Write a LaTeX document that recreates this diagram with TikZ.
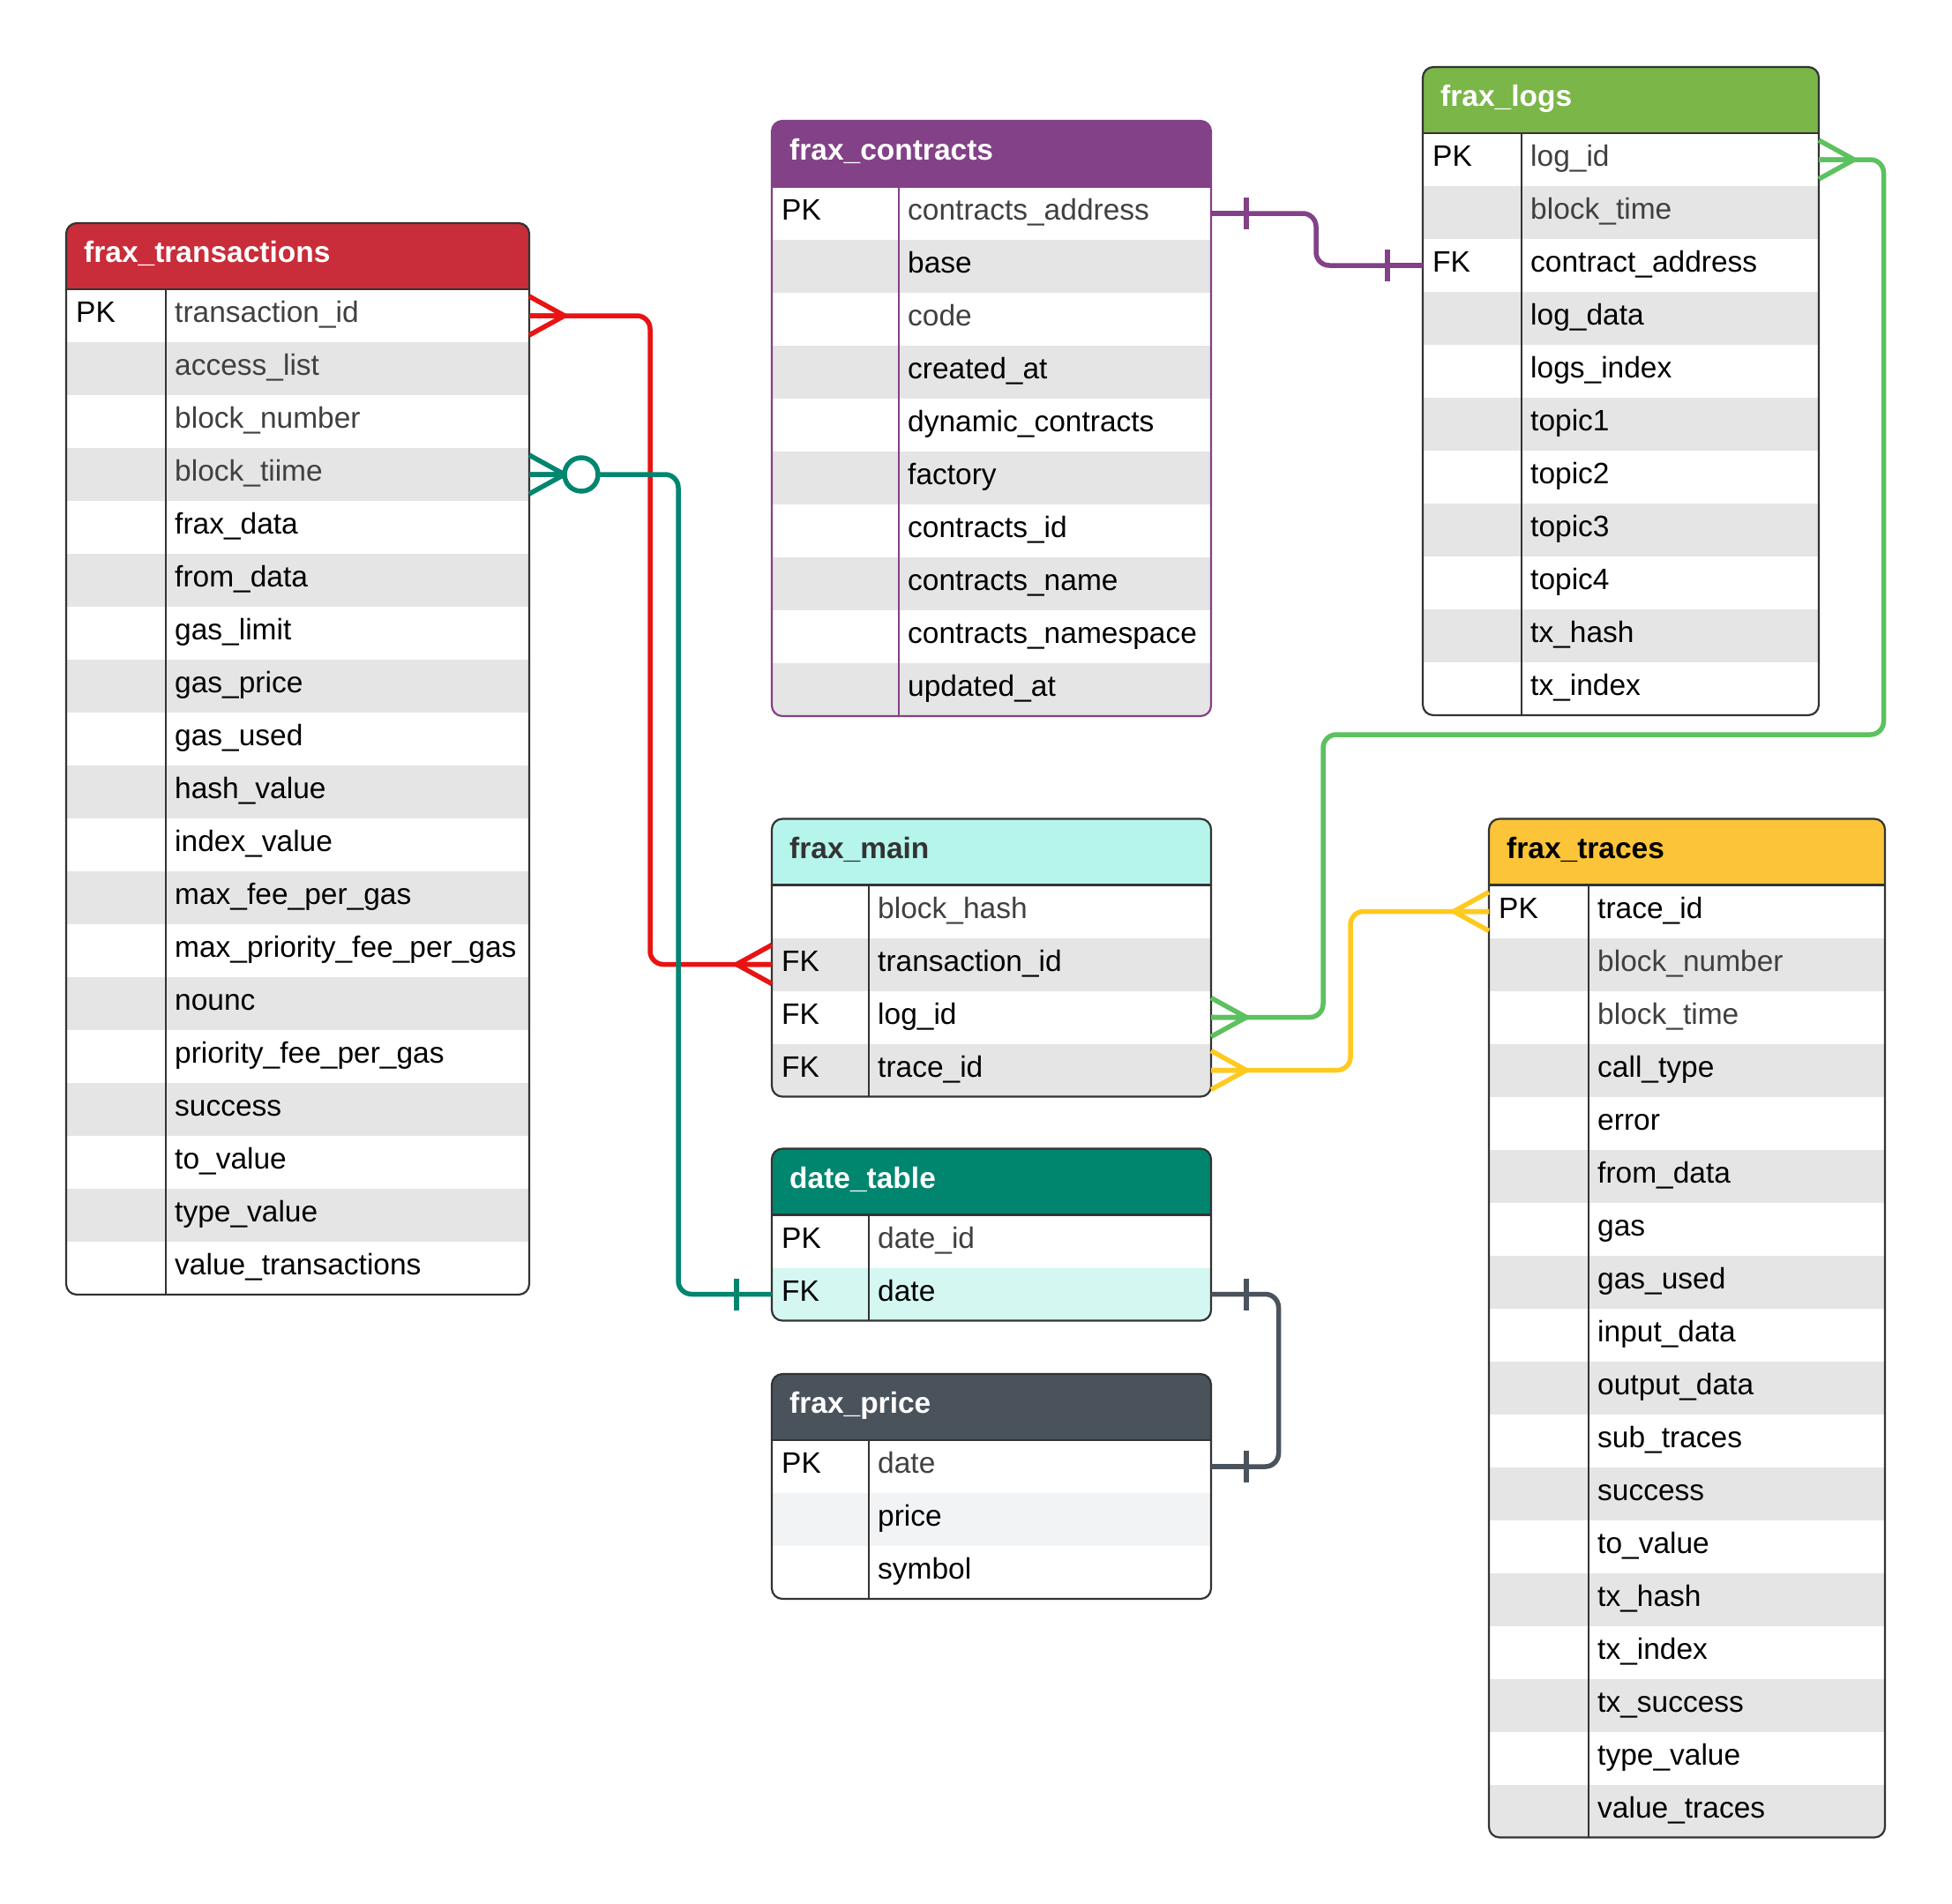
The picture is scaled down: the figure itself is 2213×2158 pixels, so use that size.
\documentclass[tikz,border=0pt]{standalone}
\usepackage{fontspec}
\setmainfont{Liberation Sans}
\usetikzlibrary{positioning}

\definecolor{frxred}{HTML}{C92D39}
\definecolor{frxpurple}{HTML}{834187}
\definecolor{frxgreen}{HTML}{7AB648}
\definecolor{frxmint}{HTML}{B5F5EC}
\definecolor{frxteal}{HTML}{00856F}
\definecolor{frxslate}{HTML}{4A535C}
\definecolor{frxyellow}{HTML}{FCC438}
\definecolor{rowgray}{HTML}{E5E5E5}
\definecolor{rowmint}{HTML}{D4F7F1}
\definecolor{rowpale}{HTML}{F2F3F5}
\definecolor{fieldgray}{HTML}{404040}
\definecolor{headdark}{HTML}{333333}
\definecolor{tableline}{HTML}{333333}
\definecolor{linkred}{HTML}{E81313}
\definecolor{linkgreen}{HTML}{5CC15F}
\definecolor{linkyellow}{HTML}{FFCA1F}

\newcommand{\erdfont}{\fontsize{33.5}{40}\selectfont}

\tikzset{
    tablehead/.style={anchor=north west, minimum height=75pt, inner sep=0pt, outer sep=0pt},
    titletext/.style={anchor=base west, inner sep=0pt, font=\erdfont\bfseries},
    rowbox/.style={minimum height=60pt, inner sep=0pt, outer sep=0pt, draw=none},
    keytext/.style={anchor=base west, inner sep=0pt, font=\erdfont, text=black},
    fieldtext/.style={anchor=base west, inner sep=0pt, font=\erdfont},
    frame/.style={draw=tableline, line width=2.2pt},
    link/.style={line width=5.5pt, rounded corners=15pt},
    pics/crowmany/.style={code={\draw[line width=5.5pt] (0,22) -- (40,0) -- (0,-22) (0,0) -- (40,0);}},
    pics/crowone/.style={code={\draw[line width=5.5pt] (0,0) -- (40,0) (40,18) -- (40,-18);}},
    pics/crowzeromany/.style={code={\draw[line width=5.5pt] (0,22) -- (40,0) -- (0,-22) (0,0) -- (40,0);
        \draw[line width=5.5pt, fill=white] (59,0) circle[radius=19];}}
}

% table: name, x, y, width, key column, rows, header look, title, fields
\newcommand{\erdtable}[9]{%
  \pgfmathsetmacro\tabh{75+60*#6}
  \begin{scope}
    \clip[rounded corners=12pt] (#2,-#3) rectangle ++(#4,-\tabh);
    \node[tablehead, #7, draw=none, minimum width=#4pt] (#1-0) at (#2,-#3) {};
    \node[titletext, #7, fill=none, draw=none] at ([xshift=20pt,yshift=-7pt]#1-0.west) {#8};
    \foreach \keyname/\fieldname/\rowfill/\fieldcol [count=\i] in {#9} {
      \pgfmathtruncatemacro\j{\i-1}
      \node[rowbox, fill=\rowfill, minimum width=#4pt, below=0pt of #1-\j] (#1-\i) {};
      \node[keytext] at ([xshift=11pt,yshift=-7.5pt]#1-\i.west) {\keyname};
      \node[fieldtext, text=\fieldcol] at ([xshift=#5pt+10pt,yshift=-7.5pt]#1-\i.west) {\fieldname};
    }
  \end{scope}
  \draw[frame, #7, fill=none] ([xshift=#5pt]#1-0.south west) -- ([xshift=#5pt]#1-#6.south west);
  \draw[frame, #7, fill=none] (#1-0.south west) -- (#1-0.south east);
  \draw[frame, #7, fill=none, rounded corners=12pt] (#2,-#3) rectangle ++(#4,-\tabh);
}

\begin{document}
\begin{tikzpicture}[x=1pt, y=1pt]
    \useasboundingbox (0,0) rectangle (2213,-2158);

    \erdtable{trans}{75}{253}{525}{113}{19}{fill=frxred, text=white}{frax\_transactions}{%
        PK/transaction\_id/white/fieldgray,
        /access\_list/rowgray/fieldgray,
        /block\_number/white/fieldgray,
        /block\_tiime/rowgray/fieldgray,
        /frax\_data/white/black,
        /from\_data/rowgray/black,
        /gas\_limit/white/black,
        /gas\_price/rowgray/black,
        /gas\_used/white/black,
        /hash\_value/rowgray/black,
        /index\_value/white/black,
        /max\_fee\_per\_gas/rowgray/black,
        /max\_priority\_fee\_per\_gas/white/black,
        /nounc/rowgray/black,
        /priority\_fee\_per\_gas/white/black,
        /success/rowgray/black,
        /to\_value/white/black,
        /type\_value/rowgray/black,
        /value\_transactions/white/black}

    \erdtable{contracts}{875}{137}{498}{144}{10}{fill=frxpurple, text=white, draw=frxpurple}{frax\_contracts}{%
        PK/contracts\_address/white/fieldgray,
        /base/rowgray/black,
        /code/white/fieldgray,
        /created\_at/rowgray/black,
        /dynamic\_contracts/white/black,
        /factory/rowgray/black,
        /contracts\_id/white/black,
        /contracts\_name/rowgray/black,
        /contracts\_namespace/white/black,
        /updated\_at/rowgray/black}

    \erdtable{logs}{1613}{76}{449}{112}{11}{fill=frxgreen, text=white}{frax\_logs}{%
        PK/log\_id/white/fieldgray,
        /block\_time/rowgray/fieldgray,
        FK/contract\_address/white/black,
        /log\_data/rowgray/black,
        /logs\_index/white/black,
        /topic1/rowgray/black,
        /topic2/white/black,
        /topic3/rowgray/black,
        /topic4/white/black,
        /tx\_hash/rowgray/black,
        /tx\_index/white/black}

    \erdtable{main}{875}{928.5}{498}{110}{4}{fill=frxmint, text=headdark}{frax\_main}{%
        /block\_hash/white/fieldgray,
        FK/transaction\_id/rowgray/black,
        FK/log\_id/white/black,
        FK/trace\_id/rowgray/black}

    \erdtable{date}{875}{1302.5}{498}{110}{2}{fill=frxteal, text=white}{date\_table}{%
        PK/date\_id/white/fieldgray,
        FK/date/rowmint/black}

    \erdtable{price}{875}{1558}{498}{110}{3}{fill=frxslate, text=white}{frax\_price}{%
        PK/date/white/fieldgray,
        /price/rowpale/black,
        /symbol/white/black}

    \erdtable{traces}{1688}{928.5}{449}{113}{18}{fill=frxyellow, text=black}{frax\_traces}{%
        PK/trace\_id/white/black,
        /block\_number/rowgray/fieldgray,
        /block\_time/white/fieldgray,
        /call\_type/rowgray/black,
        /error/white/black,
        /from\_data/rowgray/black,
        /gas/white/black,
        /gas\_used/rowgray/black,
        /input\_data/white/black,
        /output\_data/rowgray/black,
        /sub\_traces/white/black,
        /success/rowgray/black,
        /to\_value/white/black,
        /tx\_hash/rowgray/black,
        /tx\_index/white/black,
        /tx\_success/rowgray/black,
        /type\_value/white/black,
        /value\_traces/rowgray/black}

    % relations
    \draw[link, linkred] (trans-1.east) -| ([xshift=-138pt]main-2.west) -- (main-2.west);
    \pic[linkred] at (trans-1.east) {crowmany};
    \pic[linkred, xscale=-1] at (main-2.west) {crowmany};

    \draw[link, frxteal] (trans-4.east) -| ([xshift=-106pt]date-2.west) -- (date-2.west);
    \pic[frxteal] at (trans-4.east) {crowzeromany};
    \pic[frxteal, xscale=-1] at (date-2.west) {crowone};

    \draw[link, frxpurple] (contracts-1.east) -| ([xshift=-121pt]logs-3.west) -- (logs-3.west);
    \pic[frxpurple] at (contracts-1.east) {crowone};
    \pic[frxpurple, xscale=-1] at (logs-3.west) {crowone};

    \coordinate (greenbend) at (1500,-833);
    \draw[link, linkgreen] (logs-1.east) -- ++(73.5,0) |- (greenbend) |- (main-3.east);
    \pic[linkgreen] at (logs-1.east) {crowmany};
    \pic[linkgreen] at (main-3.east) {crowmany};

    \draw[link, linkyellow] (traces-1.west) -| ([xshift=158pt]main-4.east) -- (main-4.east);
    \pic[linkyellow, xscale=-1] at (traces-1.west) {crowmany};
    \pic[linkyellow] at (main-4.east) {crowmany};

    \draw[link, frxslate] (date-2.east) -| ([xshift=76.5pt]price-1.east) -- (price-1.east);
    \pic[frxslate] at (date-2.east) {crowone};
    \pic[frxslate] at (price-1.east) {crowone};
\end{tikzpicture}
\end{document}
